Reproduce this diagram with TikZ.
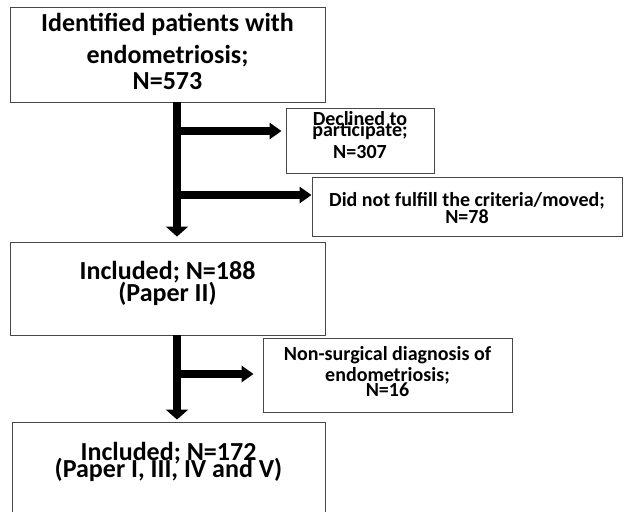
\documentclass[tikz,border=0pt]{standalone}
\usepackage{fontspec}
\setmainfont{Carlito}
\usetikzlibrary{arrows.meta}
\begin{document}
\begin{tikzpicture}[x=1pt,y=-1pt,
  box/.style={draw=black!72, line width=0.9pt, rectangle, inner sep=0pt, fill=white},
  bigtext/.style={font=\bfseries\fontsize{26}{26}\selectfont, align=center, inner sep=0pt, anchor=base},
  smalltext/.style={font=\bfseries\fontsize{20}{20}\selectfont, align=center, inner sep=0pt, anchor=base},
  vflow/.style={line width=8pt, draw=black, -{Triangle[width=22pt,length=10pt]}},
  hflow/.style={line width=8pt, draw=black, -{Triangle[width=16pt,length=12pt]}}]
\useasboundingbox (0,0) rectangle (625,512);
\clip (0,0) rectangle (625,512);
% boxes
\node[box, minimum width=315pt, minimum height=95pt] (b1) at (167.5,54.5) {};
\node[box, minimum width=148pt, minimum height=65pt] (b2) at (360,140.5) {};
\node[box, minimum width=310pt, minimum height=59pt] (b3) at (467,206.5) {};
\node[box, minimum width=315pt, minimum height=93pt] (b4) at (167.5,288.5) {};
\node[box, minimum width=249pt, minimum height=74pt] (b5) at (387.5,375) {};
\node[box, minimum width=313pt, minimum height=100pt] (b6) at (168.5,472) {};
% texts (anchor base = baseline of last line)
\node[bigtext] (t1) at (167.5,89.3) {Identified patients with\\[5.6pt]endometriosis;\\N=573};
\node[smalltext] (t2) at (360,158.3) {Declined to\\[-8.3pt]participate;\\[1.6pt]N=307};
\node[smalltext] (t3) at (467,223.3) {Did not fulfill the criteria/moved;\\[-3.3pt]N=78};
\node[bigtext] (t4) at (167.5,301.7) {Included; N=188\\[-4pt](Paper II)};
\node[smalltext] (t5) at (387.5,396) {Non-surgical diagnosis of\\[1.7pt]endometriosis;\\[-5.7pt]N=16};
\node[bigtext] (t6) at (168.5,477) {Included; N=172\\[-9pt](Paper I, III, IV and V)};
% spine coordinates
\coordinate (s1) at (177,102);
\coordinate (j1) at (177,131);
\coordinate (j2) at (177,195);
\coordinate (s2) at (177,335);
\coordinate (j3) at (177,374);
% connectors
\draw[vflow, shorten >=5pt] (b1.south -| s1) -- (b4.north -| s1);
\draw[hflow, shorten >=4pt] (j1) -- (j1 -| b2.west);
\draw[hflow] (j2) -- (j2 -| b3.west);
\draw[vflow, shorten >=2pt] (b4.south -| s2) -- (b6.north -| s2);
\draw[hflow, shorten >=9pt] (j3) -- (j3 -| b5.west);
\end{tikzpicture}
\end{document}
